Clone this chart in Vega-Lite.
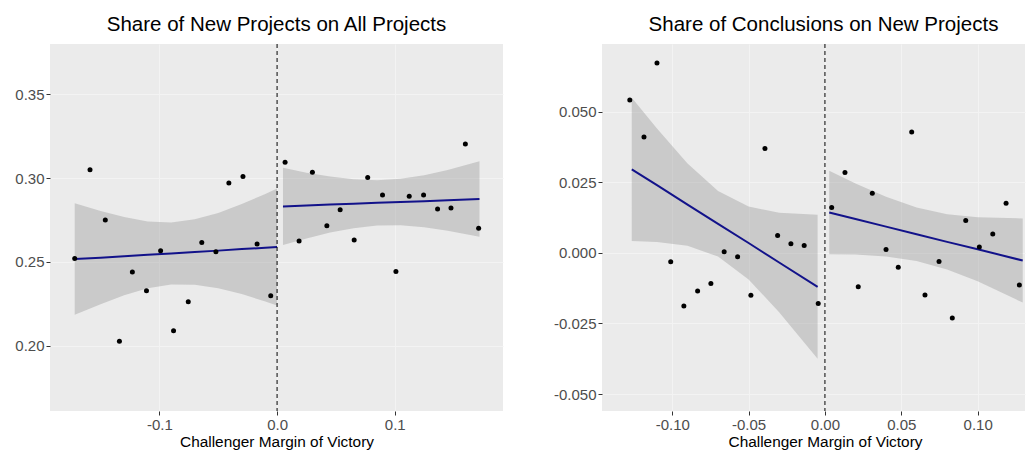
{
  "$schema": "https://vega.github.io/schema/vega-lite/v6.json",
  "background": "white",
  "padding": {"left": 14, "top": 15, "right": 0, "bottom": 0},
  "spacing": 50,
  "config": {
    "font": "Liberation Sans",
    "view": {"fill": "#EBEBEB", "stroke": null},
    "axis": {
      "grid": true,
      "gridColor": "#F3F3F3",
      "gridWidth": 1,
      "domain": false,
      "tickColor": "#333333",
      "tickSize": 4,
      "labelColor": "#4D4D4D",
      "labelFontSize": 15,
      "labelPadding": 2,
      "titleFontSize": 15.4,
      "titleFontWeight": "normal",
      "titleColor": "#000000",
      "titlePadding": 2
    },
    "title": {"fontSize": 20.5, "fontWeight": "normal", "color": "#000000", "anchor": "middle", "offset": 8},
    "locale": {"number": {"decimal": ".", "thousands": ",", "grouping": [3], "currency": ["$", ""], "minus": "-"}}
  },
  "datasets": {
    "pts1": [
      {"margin": -0.172, "share": 0.252}, {"margin": -0.159, "share": 0.305}, {"margin": -0.146, "share": 0.275},
      {"margin": -0.134, "share": 0.2026}, {"margin": -0.123, "share": 0.244}, {"margin": -0.111, "share": 0.2328},
      {"margin": -0.099, "share": 0.2566}, {"margin": -0.088, "share": 0.2089}, {"margin": -0.0755, "share": 0.2262},
      {"margin": -0.064, "share": 0.2616}, {"margin": -0.052, "share": 0.256}, {"margin": -0.041, "share": 0.297},
      {"margin": -0.029, "share": 0.301}, {"margin": -0.017, "share": 0.2606}, {"margin": -0.0054, "share": 0.2298},
      {"margin": 0.0068, "share": 0.3094}, {"margin": 0.0187, "share": 0.2624}, {"margin": 0.03, "share": 0.3034},
      {"margin": 0.0423, "share": 0.2716}, {"margin": 0.0536, "share": 0.2811}, {"margin": 0.0655, "share": 0.263},
      {"margin": 0.077, "share": 0.3004}, {"margin": 0.0896, "share": 0.2899}, {"margin": 0.101, "share": 0.2443},
      {"margin": 0.1123, "share": 0.2891}, {"margin": 0.1245, "share": 0.2899}, {"margin": 0.1364, "share": 0.2815},
      {"margin": 0.1478, "share": 0.2821}, {"margin": 0.16, "share": 0.3203}, {"margin": 0.1713, "share": 0.27}
    ],
    "band1": [
      {"side": "below", "margin": -0.172, "fit": 0.2517, "lo": 0.2185, "hi": 0.2849},
      {"side": "below", "margin": -0.15, "fit": 0.2525, "lo": 0.2247, "hi": 0.2803},
      {"side": "below", "margin": -0.13, "fit": 0.2534, "lo": 0.2301, "hi": 0.2767},
      {"side": "below", "margin": -0.11, "fit": 0.2542, "lo": 0.2343, "hi": 0.2741},
      {"side": "below", "margin": -0.09, "fit": 0.255, "lo": 0.2365, "hi": 0.2735},
      {"side": "below", "margin": -0.07, "fit": 0.2559, "lo": 0.2364, "hi": 0.2754},
      {"side": "below", "margin": -0.05, "fit": 0.2567, "lo": 0.2342, "hi": 0.2792},
      {"side": "below", "margin": -0.03, "fit": 0.2576, "lo": 0.2308, "hi": 0.2845},
      {"side": "below", "margin": -0.01, "fit": 0.2584, "lo": 0.2263, "hi": 0.2905},
      {"side": "below", "margin": 0.0, "fit": 0.2588, "lo": 0.224, "hi": 0.2937},
      {"side": "above", "margin": 0.005, "fit": 0.2831, "lo": 0.2601, "hi": 0.3061},
      {"side": "above", "margin": 0.025, "fit": 0.2836, "lo": 0.264, "hi": 0.3032},
      {"side": "above", "margin": 0.045, "fit": 0.2842, "lo": 0.2675, "hi": 0.3009},
      {"side": "above", "margin": 0.065, "fit": 0.2847, "lo": 0.2701, "hi": 0.2993},
      {"side": "above", "margin": 0.085, "fit": 0.2852, "lo": 0.2717, "hi": 0.2987},
      {"side": "above", "margin": 0.105, "fit": 0.2857, "lo": 0.2718, "hi": 0.2996},
      {"side": "above", "margin": 0.125, "fit": 0.2862, "lo": 0.2707, "hi": 0.3017},
      {"side": "above", "margin": 0.145, "fit": 0.2867, "lo": 0.2686, "hi": 0.3048},
      {"side": "above", "margin": 0.172, "fit": 0.2875, "lo": 0.265, "hi": 0.31}
    ],
    "pts2": [
      {"margin": -0.1278, "share": 0.0542}, {"margin": -0.1185, "share": 0.0411}, {"margin": -0.11, "share": 0.0673},
      {"margin": -0.101, "share": -0.0031}, {"margin": -0.0924, "share": -0.0188}, {"margin": -0.0834, "share": -0.0135},
      {"margin": -0.0747, "share": -0.0108}, {"margin": -0.066, "share": 0.0004}, {"margin": -0.0572, "share": -0.0014},
      {"margin": -0.0485, "share": -0.015}, {"margin": -0.0393, "share": 0.037}, {"margin": -0.031, "share": 0.0062},
      {"margin": -0.0223, "share": 0.0032}, {"margin": -0.0136, "share": 0.0026}, {"margin": -0.0044, "share": -0.0179},
      {"margin": 0.0044, "share": 0.0161}, {"margin": 0.0131, "share": 0.0285}, {"margin": 0.0218, "share": -0.012},
      {"margin": 0.031, "share": 0.0211}, {"margin": 0.04, "share": 0.0012}, {"margin": 0.048, "share": -0.0051},
      {"margin": 0.0568, "share": 0.0428}, {"margin": 0.0655, "share": -0.0149}, {"margin": 0.0747, "share": -0.003},
      {"margin": 0.0834, "share": -0.0231}, {"margin": 0.0922, "share": 0.0115}, {"margin": 0.1011, "share": 0.0021},
      {"margin": 0.1099, "share": 0.0067}, {"margin": 0.1186, "share": 0.0176}, {"margin": 0.1273, "share": -0.0114}
    ],
    "band2": [
      {"side": "below", "margin": -0.1265, "fit": 0.0296, "lo": 0.0042, "hi": 0.055},
      {"side": "below", "margin": -0.11, "fit": 0.024, "lo": 0.0039, "hi": 0.0441},
      {"side": "below", "margin": -0.09, "fit": 0.0171, "lo": 0.0025, "hi": 0.0317},
      {"side": "below", "margin": -0.07, "fit": 0.0103, "lo": -0.0013, "hi": 0.0219},
      {"side": "below", "margin": -0.05, "fit": 0.0035, "lo": -0.0094, "hi": 0.0164},
      {"side": "below", "margin": -0.03, "fit": -0.0034, "lo": -0.021, "hi": 0.0142},
      {"side": "below", "margin": -0.0048, "fit": -0.012, "lo": -0.0375, "hi": 0.0135},
      {"side": "above", "margin": 0.0028, "fit": 0.0143, "lo": -0.0005, "hi": 0.0291},
      {"side": "above", "margin": 0.02, "fit": 0.012, "lo": -0.0006, "hi": 0.0246},
      {"side": "above", "margin": 0.04, "fit": 0.0093, "lo": -0.0013, "hi": 0.0199},
      {"side": "above", "margin": 0.06, "fit": 0.0066, "lo": -0.0029, "hi": 0.0161},
      {"side": "above", "margin": 0.08, "fit": 0.0039, "lo": -0.0059, "hi": 0.0137},
      {"side": "above", "margin": 0.1, "fit": 0.0013, "lo": -0.01, "hi": 0.0126},
      {"side": "above", "margin": 0.1295, "fit": -0.0027, "lo": -0.0176, "hi": 0.0122}
    ]
  },
  "hconcat": [
    {
      "width": 453,
      "height": 367,
      "title": "Share of New Projects on All Projects",
      "layer": [
        {
          "data": {"name": "band1"},
          "mark": {"type": "area", "color": "#999999", "opacity": 0.4},
          "encoding": {
            "x": {"field": "margin", "type": "quantitative", "title": "Challenger Margin of Victory",
                  "scale": {"domain": [-0.193, 0.192], "nice": false, "zero": false},
                  "axis": {"values": [-0.1, 0, 0.1], "format": ".1f"}},
            "y": {"field": "lo", "type": "quantitative", "title": null,
                  "scale": {"domain": [0.161, 0.38], "nice": false, "zero": false},
                  "axis": {"values": [0.2, 0.25, 0.3, 0.35], "format": ".2f"}},
            "y2": {"field": "hi"},
            "detail": {"field": "side"}
          }
        },
        {
          "data": {"name": "band1"},
          "mark": {"type": "line", "color": "#12128a", "strokeWidth": 2},
          "encoding": {
            "x": {"field": "margin", "type": "quantitative", "title": "Challenger Margin of Victory"},
            "y": {"field": "fit", "type": "quantitative", "title": null},
            "detail": {"field": "side"}
          }
        },
        {
          "data": {"name": "pts1"},
          "mark": {"type": "point", "filled": true, "color": "#000000", "opacity": 1, "size": 25},
          "encoding": {
            "x": {"field": "margin", "type": "quantitative", "title": "Challenger Margin of Victory"},
            "y": {"field": "share", "type": "quantitative", "title": null}
          }
        },
        {
          "data": {"values": [{"margin": 0}]},
          "mark": {"type": "rule", "color": "#000000", "strokeWidth": 1, "strokeDash": [4, 3]},
          "encoding": {
            "x": {"field": "margin", "type": "quantitative", "title": "Challenger Margin of Victory"}
          }
        }
      ]
    },
    {
      "width": 423,
      "height": 367,
      "title": {"text": "Share of Conclusions on New Projects", "dx": 10},
      "layer": [
        {
          "data": {"name": "band2"},
          "mark": {"type": "area", "color": "#999999", "opacity": 0.4},
          "encoding": {
            "x": {"field": "margin", "type": "quantitative", "title": "Challenger Margin of Victory",
                  "scale": {"domain": [-0.146, 0.131], "nice": false, "zero": false},
                  "axis": {"values": [-0.1, -0.05, 0, 0.05, 0.1], "format": ".2f", "titleX": 223}},
            "y": {"field": "lo", "type": "quantitative", "title": null,
                  "scale": {"domain": [-0.056, 0.074], "nice": false, "zero": false},
                  "axis": {"values": [-0.05, -0.025, 0, 0.025, 0.05], "format": ".3f"}},
            "y2": {"field": "hi"},
            "detail": {"field": "side"}
          }
        },
        {
          "data": {"name": "band2"},
          "mark": {"type": "line", "color": "#12128a", "strokeWidth": 2},
          "encoding": {
            "x": {"field": "margin", "type": "quantitative", "title": "Challenger Margin of Victory"},
            "y": {"field": "fit", "type": "quantitative", "title": null},
            "detail": {"field": "side"}
          }
        },
        {
          "data": {"name": "pts2"},
          "mark": {"type": "point", "filled": true, "color": "#000000", "opacity": 1, "size": 25},
          "encoding": {
            "x": {"field": "margin", "type": "quantitative", "title": "Challenger Margin of Victory"},
            "y": {"field": "share", "type": "quantitative", "title": null}
          }
        },
        {
          "data": {"values": [{"margin": 0}]},
          "mark": {"type": "rule", "color": "#000000", "strokeWidth": 1, "strokeDash": [4, 3]},
          "encoding": {
            "x": {"field": "margin", "type": "quantitative", "title": "Challenger Margin of Victory"}
          }
        }
      ]
    }
  ]
}
